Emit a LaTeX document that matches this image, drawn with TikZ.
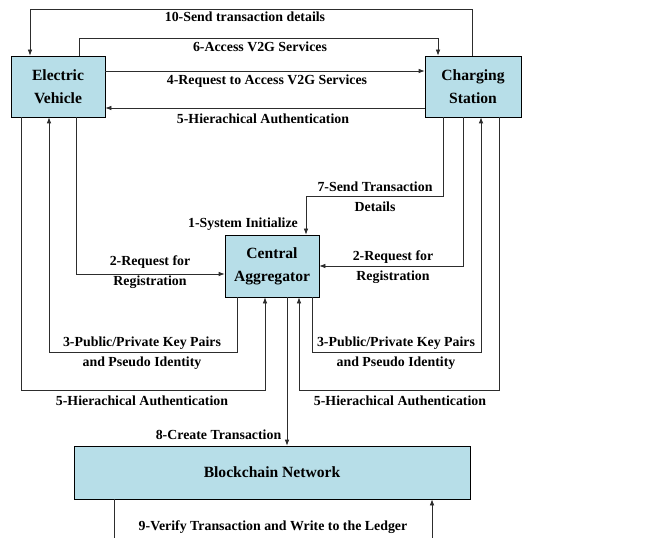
\documentclass[tikz,border=0pt]{standalone}
\usepackage{fontspec}
\setmainfont{Liberation Serif}
\usetikzlibrary{arrows.meta,shadows}
\definecolor{boxfill}{RGB}{183,222,232}
\definecolor{linecol}{RGB}{45,45,45}
\begin{document}
\begin{tikzpicture}[x=0.75pt,y=-0.75pt,
  box/.style={draw=black,line width=0.6pt,fill=boxfill,align=center,
    font=\fontsize{11.7}{17}\selectfont\bfseries,inner sep=0pt,
    drop shadow={shadow xshift=0.7pt,shadow yshift=-0.7pt,fill=gray!70,opacity=1}},
  lbl/.style={align=center,font=\fontsize{10.4}{15}\selectfont\bfseries,inner sep=0pt},
  conn/.style={draw=linecol,line width=0.6pt},
  arr/.style={conn,-{Latex[length=4.5pt,width=3.5pt]}}]
\useasboundingbox (0,0) rectangle (649,538);
% boxes
\node[box,minimum width=94*0.75pt,minimum height=61*0.75pt] (EV) at (58,86.5) {Electric\\Vehicle};
\node[box,minimum width=96*0.75pt,minimum height=61*0.75pt] (CS) at (473,86.5) {Charging\\Station};
\node[box,minimum width=94*0.75pt,minimum height=62*0.75pt] (CA) at (272,266) {Central\\Aggregator};
\node[box,minimum width=396*0.75pt,minimum height=53*0.75pt] (BC) at (272,472.5) {Blockchain Network};
% labels
\node[lbl] (l10) at (245,17) {10-Send transaction details};
\node[lbl] (l6) at (260,47) {6-Access V2G Services};
\node[lbl] (l4) at (267,81) {4-Request to Access V2G Services};
\node[lbl] (l5t) at (263,119) {5-Hierachical Authentication};
\node[lbl] (l7) at (375,196.5) {7-Send Transaction\\Details};
\node[lbl] (l1) at (243,224) {1-System Initialize};
\node[lbl] (l2l) at (150,272) {2-Request for\\Registration};
\node[lbl] (l2r) at (393,267) {2-Request for\\Registration};
\node[lbl] (l3l) at (142,353) {3-Public/Private Key Pairs\\and Pseudo Identity};
\node[lbl] (l3r) at (396,353) {3-Public/Private Key Pairs\\and Pseudo Identity};
\node[lbl] (l5l) at (142,401) {5-Hierachical Authentication};
\node[lbl] (l5r) at (400,401) {5-Hierachical Authentication};
\node[lbl] (l8) at (218.5,435) {8-Create Transaction};
\node[lbl] (l9) at (273,527) {9-Verify Transaction and Write to the Ledger};
% free ends
\coordinate (b1) at (114,540);
\coordinate (b2) at (432,540);
% connectors
\draw[arr] (CS.north -| 472,0) -- (472,9) -- (30,9) -- (EV.north -| 30,0);
\draw[arr] (EV.north -| 79,0) -- (79,38) -- (438,38) -- (CS.north -| 438,0);
\draw[arr] (EV.east |- 0,71) -- (CS.west |- 0,71);
\draw[arr] (CS.west |- 0,108) -- (EV.east |- 0,108);
\draw[arr] (CS.south -| 443,0) -- (443,196) -- (306,196) -- (CA.north -| 306,0);
\draw[arr] (EV.south -| 76,0) -- (76,274) -- (CA.west |- 0,274);
\draw[arr] (CS.south -| 463,0) -- (463,266) -- (CA.east |- 0,266);
\draw[arr] (CA.south -| 237,0) -- (237,352) -- (49,352) -- (EV.south -| 49,0);
\draw[arr] (EV.south -| 21,0) -- (21,390) -- (265,390) -- (CA.south -| 265,0);
\draw[arr] (CA.south -| 312,0) -- (312,352) -- (481,352) -- (CS.south -| 481,0);
\draw[arr] (CS.south -| 499,0) -- (499,390) -- (299,390) -- (CA.south -| 299,0);
\draw[arr] (CA.south -| 287,0) -- (BC.north -| 287,0);
\draw[conn] (BC.south -| b1) -- (b1);
\draw[arr] (b2) -- (BC.south -| b2);
\end{tikzpicture}
\end{document}
